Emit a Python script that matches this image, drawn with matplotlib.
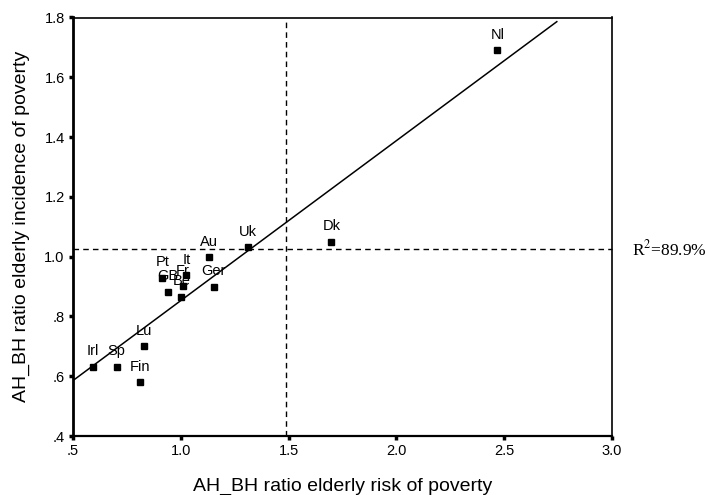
import matplotlib.pyplot as plt
import numpy as np

plt.rcParams['font.family'] = ['Liberation Sans', 'DejaVu Sans']
plt.rcParams['mathtext.fontset'] = 'stix'

# country points
countries = ['Nl', 'Dk', 'Uk', 'Au', 'Ger', 'Pt', 'It', 'Fr', 'GB', 'Be', 'Lu', 'Irl', 'Sp', 'Fin']
risk_ratio = [2.468, 1.698, 1.312, 1.131, 1.153, 0.915, 1.026, 1.011, 0.941, 1.003, 0.830, 0.594, 0.702, 0.810]
incidence_ratio = [1.691, 1.050, 1.032, 0.998, 0.900, 0.930, 0.939, 0.902, 0.883, 0.866, 0.701, 0.632, 0.632, 0.580]

# fitted line and reference lines
fit_intercept = 0.318
fit_slope = 0.535
fit_x_range = [0.5, 2.744]
ref_x = 1.486
ref_y = 1.025
r2_text = r'R$^{2}$=89.9%'

xticks = [0.5, 1.0, 1.5, 2.0, 2.5, 3.0]
xtick_labels = ['.5', '1.0', '1.5', '2.0', '2.5', '3.0']
yticks = [0.4, 0.6, 0.8, 1.0, 1.2, 1.4, 1.6, 1.8]
ytick_labels = ['.4', '.6', '.8', '1.0', '1.2', '1.4', '1.6', '1.8']

fig = plt.figure(figsize=(7.07, 4.95), dpi=100)
ax = fig.add_axes([73 / 707, 59 / 495, 539 / 707, 418.5 / 495])

# dashed reference lines
ax.axvline(ref_x, color='black', lw=1.0, dashes=(4, 3))
ax.axhline(ref_y, color='black', lw=1.0, dashes=(4, 3), clip_on=False)

# fit line
fx = np.array(fit_x_range)
ax.plot(fx, fit_intercept + fit_slope * fx, color='black', lw=1.1)

# points and labels
ax.plot(risk_ratio, incidence_ratio, 's', color='black', ms=4.5, ls='none')
for name, x, y in zip(countries, risk_ratio, incidence_ratio):
    ax.annotate(name, (x, y), xytext=(0, 11), textcoords='offset points',
                ha='center', va='center', fontsize=10.5)

ax.text(1.037, ref_y, r2_text, transform=ax.get_yaxis_transform(),
        ha='left', va='center', fontsize=12.5, family='Liberation Serif')

ax.set_xlim(0.5, 3.0)
ax.set_ylim(0.4, 1.8)
ax.set_xticks(xticks)
ax.set_xticklabels(xtick_labels)
ax.set_yticks(yticks)
ax.set_yticklabels(ytick_labels)
ax.tick_params(direction='out', length=3, width=2.5, labelsize=10.5, pad=3)

ax.spines['left'].set_linewidth(2)
ax.spines['bottom'].set_linewidth(1.6)
ax.spines['top'].set_linewidth(1.2)
ax.spines['right'].set_linewidth(1.2)

ax.set_xlabel('AH_BH ratio elderly risk of poverty', fontsize=14, labelpad=14)
ax.set_ylabel('AH_BH ratio elderly incidence of poverty', fontsize=14, labelpad=10)

plt.savefig('out.png', dpi=100)
